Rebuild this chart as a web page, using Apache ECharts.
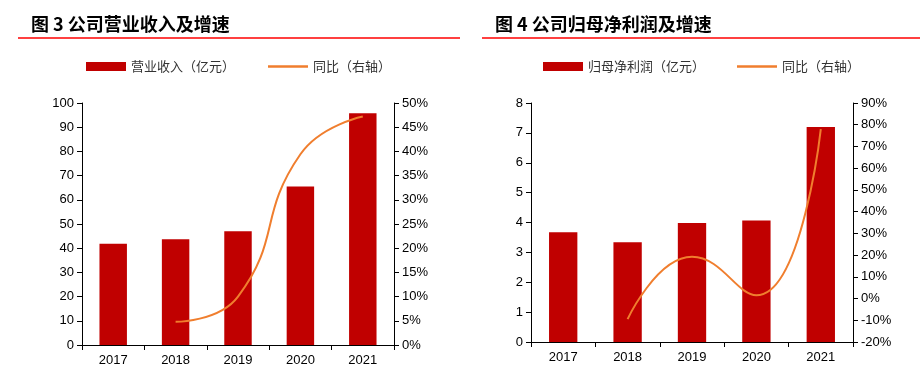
<!DOCTYPE html>
<html lang="zh">
<head>
<meta charset="UTF-8">
<script src="https://cdn.jsdelivr.net/npm/echarts@6/dist/echarts.min.js"></script>
<style>
  body { margin: 0; background: #fff; }
  .box { position: absolute; top: 0; width: 460px; height: 375px; }
</style>
</head>
<body>
<div id="c1" class="box" style="left:0"></div>
<div id="c2" class="box" style="left:460px"></div>
<script>
// 数据
var years = ['2017', '2018', '2019', '2020', '2021'];
var revenue = [41.8, 43.7, 47.0, 65.5, 95.8];          // 营业收入（亿元）
var revenueYoy = [null, 4.8, 10.0, 39.4, 47.2];         // 同比 %
var profit = [3.67, 3.34, 3.98, 4.07, 7.20];            // 归母净利润（亿元）
var profitYoy = [null, -9.5, 19.2, 1.5, 78.0];          // 同比 %

var FONT = 'Liberation Sans, Arial, sans-serif';
var CJK = 'Noto Sans CJK SC';
var RED = '#C00000';
var ORANGE = '#F07E2E';

function makeOption(cfg) {
	var axisLine = { show: true, lineStyle: { color: '#000', width: 1 } };
	var axisTick = { show: true, length: 5, lineStyle: { color: '#000' } };
	return {
		animation: false,
		graphic: [
			{
				type: 'text', left: cfg.titleX, top: 15,
				style: { text: cfg.title, font: 'bold 18px "' + CJK + '"', fill: '#000' }
			},
			{
				type: 'line',
				shape: { x1: cfg.lineX1, y1: 38, x2: cfg.lineX2, y2: 38 },
				style: { stroke: '#FF0000', lineWidth: 1.5 }
			}
		],
		legend: {
			left: cfg.legendX, top: 60, padding: 0,
			itemWidth: 40, itemHeight: 9, itemGap: cfg.legendGap,
			textStyle: { fontFamily: CJK, fontSize: 13, color: '#333' },
			data: [
				{ name: cfg.barName, icon: 'rect' },
				{ name: '同比（右轴）', icon: 'path://M0,0 L40,0 L40,2.5 L0,2.5 Z', itemStyle: { color: ORANGE } }
			]
		},
		grid: { left: cfg.gridLeft, right: cfg.gridRight, top: 103, bottom: cfg.gridBottom },
		xAxis: {
			type: 'category', data: years,
			axisLine: axisLine, axisTick: axisTick,
			axisLabel: { fontFamily: FONT, fontSize: 13, color: '#000', margin: 9 }
		},
		yAxis: [
			{
				type: 'value', min: cfg.lMin, max: cfg.lMax, interval: cfg.lInt,
				splitLine: { show: false },
				axisLine: axisLine, axisTick: axisTick,
				axisLabel: { fontFamily: FONT, fontSize: 13, color: '#000', margin: 8 }
			},
			{
				type: 'value', position: 'right', min: cfg.rMin, max: cfg.rMax, interval: cfg.rInt,
				splitLine: { show: false },
				axisLine: axisLine, axisTick: axisTick,
				axisLabel: { fontFamily: FONT, fontSize: 13, color: '#000', margin: 8, formatter: '{value}%' }
			}
		],
		series: [
			{
				name: cfg.barName, type: 'bar', data: cfg.bars, barWidth: '44%',
				itemStyle: { color: RED }
			},
			{
				name: '同比（右轴）', type: 'line', yAxisIndex: 1, data: cfg.yoy,
				smooth: 0.5, symbol: 'none',
				lineStyle: { color: ORANGE, width: 2 }, itemStyle: { color: ORANGE }
			}
		]
	};
}

var chart1 = echarts.init(document.getElementById('c1'));
chart1.setOption(makeOption({
	title: '图 3 公司营业收入及增速', titleX: 31, lineX1: 18, lineX2: 460,
	legendX: 86, legendGap: 33,
	barName: '营业收入（亿元）', bars: revenue, yoy: revenueYoy,
	gridLeft: 82, gridRight: 66, gridBottom: 30,
	lMin: 0, lMax: 100, lInt: 10, rMin: 0, rMax: 50, rInt: 5
}));

var chart2 = echarts.init(document.getElementById('c2'));
chart2.setOption(makeOption({
	title: '图 4 公司归母净利润及增速', titleX: 35, lineX1: 22, lineX2: 460,
	legendX: 83, legendGap: 32,
	barName: '归母净利润（亿元）', bars: profit, yoy: profitYoy,
	gridLeft: 71, gridRight: 67, gridBottom: 33,
	lMin: 0, lMax: 8, lInt: 1, rMin: -20, rMax: 90, rInt: 10
}));
</script>
</body>
</html>
